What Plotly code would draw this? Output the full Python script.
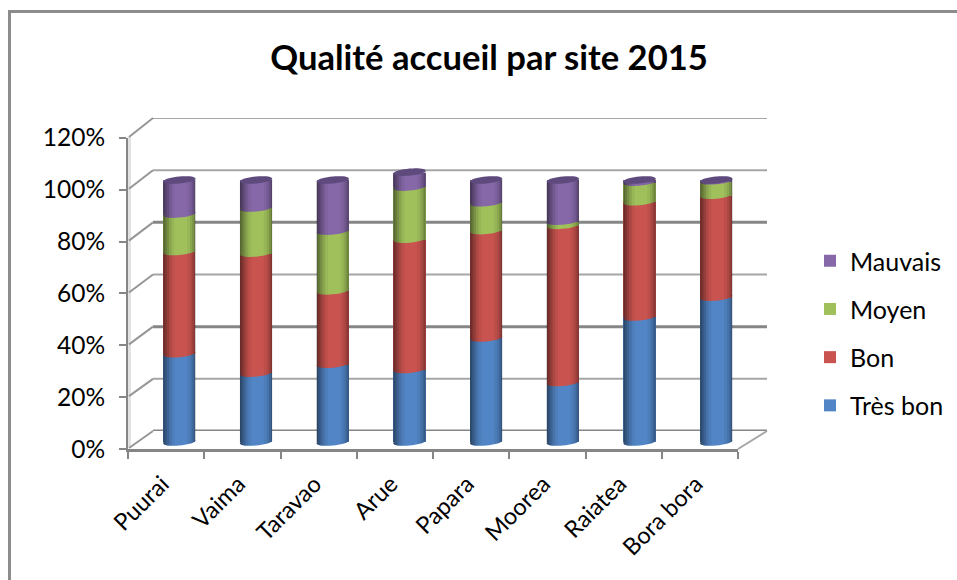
import math
import plotly.graph_objects as go

categories = ["Puurai", "Vaima", "Taravao", "Arue", "Papara", "Moorea", "Raiatea", "Bora bora"]
tres_bon = [33.7, 26.3, 29.7, 27.7, 39.7, 22.7, 47.7, 55.3]
bon = [39, 45.8, 28, 49.7, 41, 60, 44, 38.9]
moyen = [14.3, 17.2, 22.8, 19.9, 10.6, 1.6, 7.5, 5.5]
mauvais = [13, 10.7, 19.5, 5.7, 8.7, 15.7, 0.8, 0.3]
series_names = ["Très bon", "Bon", "Moyen", "Mauvais"]
series_values = [tres_bon, bon, moyen, mauvais]
series_colors = ["#5285C5", "#C8534F", "#A0C05C", "#8668A8"]
legend_ranks = [4, 3, 2, 1]
cap_color = "#5F4A7E"
y_ticks = [0, 20, 40, 60, 80, 100, 120]
y_tick_labels = ["0%", "20%", "40%", "60%", "80%", "100%", "120%"]
grid_widths = [3, 2, 3, 2, 3, 2, 2]
grid_colors = ["#868686", "#A6A6A6", "#868686", "#A6A6A6", "#868686", "#A6A6A6", "#A6A6A6"]

W, H = 957, 580
FONT = "Lato, Carlito, Calibri, sans-serif"


def dx(a, b):
    return [a / W, b / W]


def dy(bottom, top):
    return [1 - bottom / H, 1 - top / H]


BAR_W = 0.42
hw = BAR_W / 2
b_pct = 1.35   # half-height of a cylinder ellipse in percent units
t_pct = 0.55   # tilt, percent units from centre to side


def ellipse_path(cx, cy):
    pts = []
    for k in range(36):
        a = 2 * math.pi * k / 36
        u, v = math.cos(a), math.sin(a)
        pts.append((cx + hw * u, cy + t_pct * u + b_pct * v))
    return "M " + " L ".join(f"{x:.4f} {y:.3f}" for x, y in pts) + " Z"


def bar_shape(path, color):
    return dict(type="path", path=path, xref="x2", yref="y2", fillcolor=color,
                line=dict(width=0), layer="above")


# nested strips anchored at the cylinder edges, so the shading has no seams
shade_profile = [(-1.0, -0.9, 0.16), (-1.0, -0.78, 0.14), (-1.0, -0.64, 0.13), (-1.0, -0.48, 0.09), (-1.0, -0.3, 0.05),
                 (0.92, 1.0, 0.16), (0.8, 1.0, 0.12), (0.66, 1.0, 0.08), (0.48, 1.0, 0.05)]


def strip_path(cx, total, u0, u1):
    pts = []
    steps = 6
    for i in range(steps + 1):
        u = u0 + (u1 - u0) * i / steps
        s = math.sqrt(max(0, 1 - u * u))
        pts.append((cx + hw * u, t_pct * u - b_pct * s))
    for i in range(steps, -1, -1):
        u = u0 + (u1 - u0) * i / steps
        pts.append((cx + hw * u, total + t_pct * u))
    return "M " + " L ".join(f"{x:.4f} {y:.3f}" for x, y in pts) + " Z"


fig = go.Figure()

# Invisible traces that keep the front and back axes alive
fig.add_trace(go.Scatter(x=categories, y=[None] * len(categories), xaxis="x", yaxis="y",
                         showlegend=False, hoverinfo="skip", mode="markers"))
fig.add_trace(go.Scatter(x=[0], y=[None], xaxis="x3", yaxis="y3",
                         showlegend=False, hoverinfo="skip", mode="markers"))

for name, values, color, rank in zip(series_names, series_values, series_colors, legend_ranks):
    fig.add_trace(go.Bar(x=list(range(len(categories))), y=values, name=name, width=BAR_W,
                         marker=dict(color=color, line=dict(width=0)), xaxis="x2", yaxis="y2",
                         legendgroup=name, legendrank=rank))

shapes = []
# frame
shapes.append(dict(type="line", xref="paper", yref="paper", x0=9.5 / W, x1=9.5 / W, y0=0, y1=1 - 11 / H,
                   line=dict(color="#8C8C8C", width=3), layer="below"))
shapes.append(dict(type="line", xref="paper", yref="paper", x0=8 / W, x1=1, y0=1 - 11.5 / H, y1=1 - 11.5 / H,
                   line=dict(color="#8C8C8C", width=3), layer="below"))
# left wall tint
shapes.append(dict(type="rect", xref="paper", yref="paper", x0=128 / W, x1=131 / W, y0=1 - 447 / H, y1=1 - 137 / H,
                   fillcolor="#E2E2E2", line=dict(width=0), layer="below"))
# back wall gridlines and side connectors
FRONT_Y0, FRONT_Y1 = 448, 137
BACK_Y0, BACK_Y1 = 431, 118
for t, w, c in zip(y_ticks, grid_widths, grid_colors):
    shapes.append(dict(type="line", xref="paper", yref="y3", x0=153 / W, x1=767 / W, y0=t, y1=t,
                       line=dict(color=c, width=w), layer="below"))
    fy = FRONT_Y0 + (FRONT_Y1 - FRONT_Y0) * t / 120
    by = BACK_Y0 + (BACK_Y1 - BACK_Y0) * t / 120
    shapes.append(dict(type="line", xref="paper", yref="paper", x0=129 / W, x1=153 / W,
                       y0=1 - fy / H, y1=1 - by / H, line=dict(color="#969696", width=2), layer="below"))
shapes.append(dict(type="line", xref="paper", yref="paper", x0=738 / W, x1=767 / W,
                   y0=1 - 449 / H, y1=1 - 431 / H, line=dict(color="#A6A6A6", width=2), layer="below"))

# cylinders
for i in range(len(categories)):
    base = 0
    for values, color in zip(series_values, series_colors):
        shapes.append(bar_shape(ellipse_path(i, base), color))
        base += values[i]
    for u0, u1, alpha in shade_profile:
        shapes.append(bar_shape(strip_path(i, base, u0, u1), f"rgba(0,0,0,{alpha})"))
    shapes.append(bar_shape(ellipse_path(i, base), cap_color))

axis_common = dict(showgrid=False, zeroline=False)
fig.update_layout(
    width=W, height=H, autosize=False,
    margin=dict(l=0, r=0, t=0, b=0, autoexpand=False),
    paper_bgcolor="white", plot_bgcolor="rgba(0,0,0,0)",
    barmode="stack", bargap=0,
    font=dict(family=FONT, size=23, color="black"),
    title=dict(text="<b>Qualité accueil par site 2015</b>", x=489 / W, xanchor="center",
               y=1 - 58 / H, yanchor="middle", font=dict(family=FONT, size=34.6, color="black")),
    xaxis=dict(domain=dx(128, 738), type="category", categoryorder="array", categoryarray=categories,
               range=[-0.5, 7.5], tickson="boundaries", ticks="outside", ticklen=7, tickwidth=2,
               tickcolor="#868686", showline=True, linecolor="#868686", linewidth=3, tickangle=-45,
               ticklabelstandoff=9, ticklabelshift=-4,
               anchor="y", tickfont=dict(family=FONT, size=23.5), **axis_common),
    yaxis=dict(domain=dy(449, 137.9), range=[0, 120], tickvals=y_ticks, ticktext=y_tick_labels, ticks="outside",
               ticklen=7, tickwidth=2, tickcolor="#868686", showline=True, linecolor="#868686", linewidth=2,
               ticklabelstandoff=9,
               anchor="x", tickfont=dict(family=FONT, size=24.5), **axis_common),
    xaxis2=dict(domain=dx(141, 754.6), range=[-0.5, 7.5], visible=False, anchor="y2", **axis_common),
    yaxis2=dict(domain=dy(468.2, 127.6), range=[-10, 120], visible=False, anchor="x2", **axis_common),
    xaxis3=dict(domain=dx(153, 767), range=[0, 1], visible=False, anchor="y3", **axis_common),
    yaxis3=dict(domain=dy(BACK_Y0, BACK_Y1), range=[0, 120], visible=False, anchor="x3", **axis_common),
    legend=dict(x=810 / W, y=1 - 238 / H, xanchor="left", yanchor="top", traceorder="grouped",
                tracegroupgap=12.7, font=dict(family=FONT, size=25), bgcolor="rgba(0,0,0,0)"),
    shapes=shapes,
    hovermode=False,
)

fig.write_html("out.html", post_script="document.body.style.margin='0';",
               config=dict(displayModeBar=False))
